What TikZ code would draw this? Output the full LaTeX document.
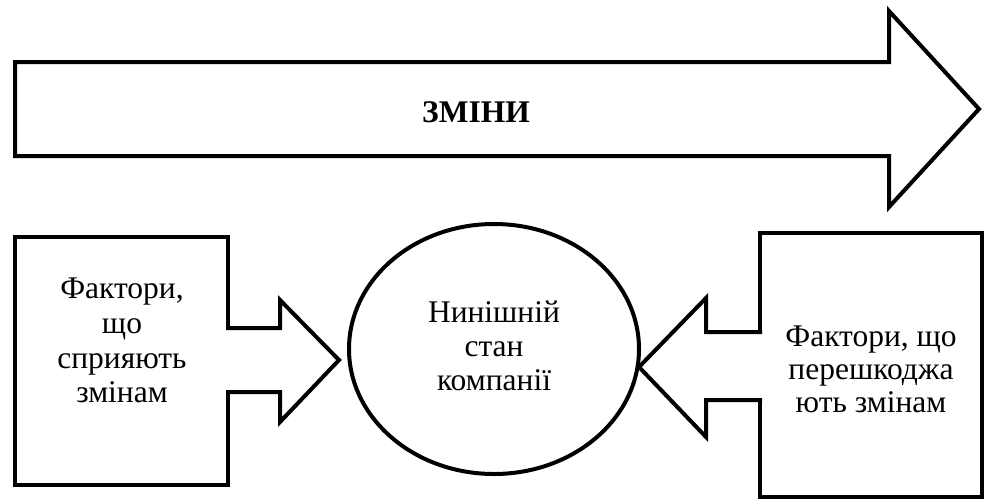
\documentclass[tikz,border=0pt]{standalone}
\usepackage{fontspec}
\setmainfont{Liberation Serif}
\usetikzlibrary{shapes.geometric}
\begin{document}
\begin{tikzpicture}[x=1pt,y=-1pt,
  outline/.style={draw=black, line width=4pt, line join=miter},
  block/.style={outline, rectangle, inner sep=0pt, outer sep=0pt},
  txt/.style={font=\fontsize{31.5}{35}\selectfont, inner sep=0pt, anchor=base},
  headtxt/.style={txt, font=\fontsize{31.5}{35}\selectfont\bfseries}]
\useasboundingbox (0,0) rectangle (984,499);

% big block arrow "changes"
\draw[outline, fill=white] (15,62) -- (889,62) -- (889,11) -- (979,109)
  -- (889,207) -- (889,156) -- (15,156) -- cycle;
\node[headtxt] (changes) at (476,122) {ЗМІНИ};

% left box: driving factors
\node[block, minimum width=213pt, minimum height=248pt] (pro) at (121.5,361) {};
\node[txt] (pro1) at (122,298) {Фактори,};
\node[txt] (pro2) at (122,333) {що};
\node[txt] (pro3) at (122,368) {сприяють};
\node[txt] (pro4) at (122,402) {змінам};

% right box: restraining factors
\node[block, minimum width=222pt, minimum height=264pt] (con) at (871,365) {};
\node[txt] (con1) at (871,346) {Фактори, що};
\node[txt] (con2) at (871,379) {перешкоджа};
\node[txt] (con3) at (871,412) {ють змінам};

% current state
\node[outline, ellipse, minimum width=290pt, minimum height=250pt, inner sep=0pt] (state) at (494,349) {};
\node[txt] (st1) at (494,322) {Нинішній};
\node[txt] (st2) at (494,356) {стан};
\node[txt] (st3) at (494,390) {компанії};

% block arrow from the left box towards the state
\path[fill=white] (224,328) -- (280,328) -- (280,300) -- (339,360)
  -- (280,422) -- (280,392) -- (224,392) -- cycle;
\draw[outline] (226,328) -- (280,328) -- (280,300) -- (339,360)
  -- (280,422) -- (280,392) -- (226,392);

% block arrow from the right box towards the state
\path[fill=white] (764,332) -- (706,332) -- (706,298) -- (639,367)
  -- (706,437) -- (706,400) -- (764,400) -- cycle;
\draw[outline] (762,332) -- (706,332) -- (706,298) -- (639,367)
  -- (706,437) -- (706,400) -- (762,400);
\end{tikzpicture}
\end{document}
